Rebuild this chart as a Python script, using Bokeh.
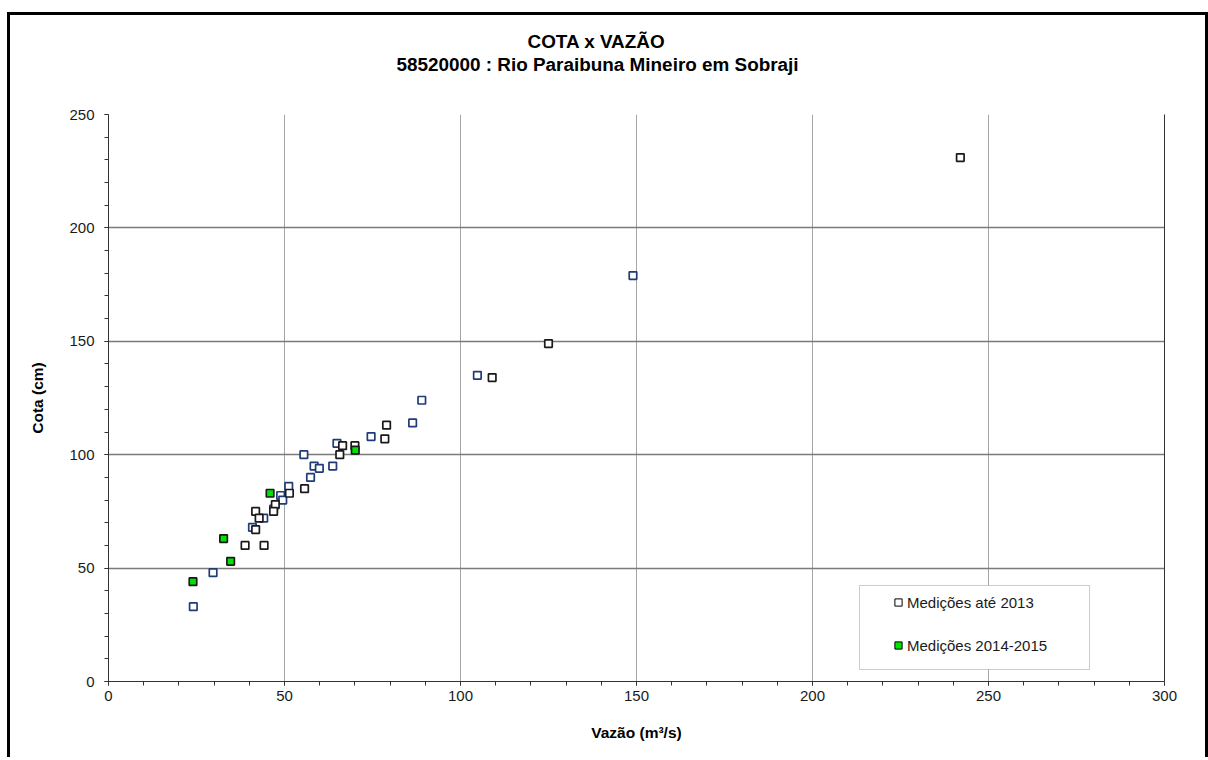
from bokeh.plotting import figure
from bokeh.models import (Range1d, SingleIntervalTicker, FixedTicker, LinearAxis, Legend,
                          LegendItem, Title, BoxAnnotation)
from bokeh.embed import file_html
from bokeh.resources import INLINE

# ---- data (discharge m3/s, stage cm) ----
q_ate2013_preto = [242, 125, 109, 79, 78.5, 70, 66.5, 65.7, 55.7, 51.4, 47.4, 46.9, 41.8, 42.8, 41.8, 38.8, 44.2]
h_ate2013_preto = [231, 149, 134, 113, 107, 104, 104, 100, 85, 83, 78, 75, 75, 72, 67, 60, 60]

q_ate2013_azul = [149, 104.8, 89, 86.4, 74.6, 64.9, 55.5, 58.4, 59.9, 63.7, 57.4, 51.2, 48.9, 49.5, 46.9, 44.1, 40.9, 29.7, 24.1]
h_ate2013_azul = [179, 135, 124, 114, 108, 105, 100, 95, 94, 95, 90, 86, 82, 80, 76, 72, 68, 48, 33]

q_2014_2015 = [70.1, 45.9, 32.7, 34.7, 24.0]
h_2014_2015 = [102, 83, 63, 53, 44]

x_ticks_interval = 50
y_ticks_interval = 50
titulo1 = "COTA x VAZÃO"
titulo2 = "58520000 : Rio Paraibuna Mineiro em Sobraji"
label_x = "Vazão (m³/s)"
label_y = "Cota (cm)"
leg1 = "Medições até 2013"
leg2 = "Medições 2014-2015"

FONT = "Liberation Sans"
NAN = float("nan")

p = figure(width=1201, height=745, output_backend="svg", toolbar_location=None,
           x_range=Range1d(0, 300), y_range=Range1d(0, 250),
           min_border_left=98, min_border_right=47, min_border_top=99, min_border_bottom=79,
           background_fill_color="white", border_fill_color="white")
p.styles = {"margin-left": "7px", "margin-top": "12px",
            "border-left": "3px solid black", "border-top": "3px solid black",
            "border-right": "3px solid black"}
p.title.text = ""
p.outline_line_color = None

# axes
for ax, interval in ((p.xaxis[0], x_ticks_interval), (p.yaxis[0], y_ticks_interval)):
    ax.ticker = SingleIntervalTicker(interval=interval, num_minor_ticks=5)
    ax.axis_line_color = "#333333"
    ax.major_tick_line_color = "#333333"
    ax.minor_tick_line_color = "#333333"
    ax.major_tick_in = 0
    ax.major_tick_out = 4
    ax.minor_tick_in = 0
    ax.minor_tick_out = 4
    ax.major_label_text_font = FONT
    ax.major_label_text_font_size = "15px"
    ax.major_label_text_color = "#1a1a1a"
    ax.axis_label_text_font = FONT
    ax.axis_label_text_font_size = "15.5px"
    ax.axis_label_text_font_style = "bold"
    ax.axis_label_text_color = "#000000"

p.xaxis.axis_label = label_x
p.yaxis.axis_label = label_y
p.xaxis.major_label_standoff = 5
p.yaxis.major_label_standoff = 10
p.xaxis.axis_label_standoff = 20
p.yaxis.axis_label_standoff = 20

right_axis = LinearAxis(ticker=FixedTicker(ticks=[]), axis_line_color="#333333",
                        major_tick_line_color=None, minor_tick_line_color=None,
                        major_label_text_font_size="0px")
p.add_layout(right_axis, "right")

p.xgrid.ticker = SingleIntervalTicker(interval=x_ticks_interval)
p.ygrid.ticker = SingleIntervalTicker(interval=y_ticks_interval)
p.xgrid.grid_line_color = "#a6a6a6"
p.xgrid.grid_line_width = 1
p.ygrid.grid_line_color = "#7a7a7a"
p.ygrid.grid_line_width = 1.3

# points
p.scatter(q_ate2013_azul, h_ate2013_azul, marker="square", size=7.5, line_width=1.7,
          line_color="#1F3B78", fill_color="white")
p.scatter(q_ate2013_preto, h_ate2013_preto, marker="square", size=7.5, line_width=1.7,
          line_color="#1a1a1a", fill_color="white")
p.scatter(q_2014_2015, h_2014_2015, marker="square", size=7.5, line_width=1.7,
          line_color="#1a1a1a", fill_color="#00E400")

# legend glyph proxies (a single undrawn NaN point each)
r_leg1 = p.scatter([NAN], [NAN], marker="square", size=7, line_width=1, line_color="#000000", fill_color="white")
r_leg2 = p.scatter([NAN], [NAN], marker="square", size=7, line_width=1, line_color="#000000", fill_color="#00E400")

box = BoxAnnotation(left=846, right=1076, top=567, bottom=651,
                    left_units="canvas", right_units="canvas", top_units="canvas", bottom_units="canvas",
                    fill_color="white", fill_alpha=1, line_color="#555555", line_width=1)
p.add_layout(box)

legend = Legend(items=[LegendItem(label=leg1, renderers=[r_leg1]),
                       LegendItem(label=leg2, renderers=[r_leg2])],
                location=(781, 26), orientation="vertical",
                padding=0, spacing=23, margin=0,
                glyph_width=18, glyph_height=18, label_height=20, label_standoff=-4,
                label_text_font=FONT, label_text_font_size="15px", label_text_color="#1a1a1a",
                border_line_color=None, background_fill_alpha=0)
p.add_layout(legend)

# titles (added closest to the frame first)
spacer = Title(text=" ", text_font_size="1px", standoff=36)
sub = Title(text=titulo2, align="left", offset=288, standoff=0, vertical_align="middle",
            text_font=FONT, text_font_size="18.9px", text_font_style="bold", text_color="black")
main = Title(text=titulo1, align="left", offset=419, standoff=0, vertical_align="middle",
             text_font=FONT, text_font_size="18.9px", text_font_style="bold", text_color="black")
p.add_layout(spacer, "above")
p.add_layout(sub, "above")
p.add_layout(main, "above")

open("out.html", "w").write(file_html(p, INLINE))
